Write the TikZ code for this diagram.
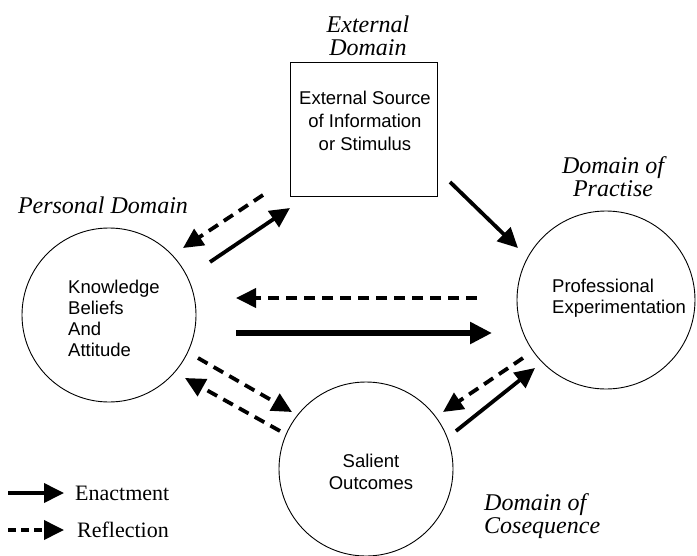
\documentclass[tikz,border=0pt]{standalone}
\usepackage{fontspec}
\setmainfont{Liberation Serif}
\newfontfamily\sansf{Liberation Sans}
\usetikzlibrary{arrows.meta}
\begin{document}
\begin{tikzpicture}[x=1pt,y=-1pt,
  circ/.style={draw,circle,line width=0.9pt,inner sep=0pt},
  boxnode/.style={draw,rectangle,line width=0.9pt,inner sep=0pt},
  domlabel/.style={font=\fontsize{24}{23}\selectfont\itshape,align=center,inner sep=0pt},
  intext/.style={font=\sansf\fontsize{18.5}{21}\selectfont,inner sep=0pt},
  legtext/.style={font=\fontsize{22}{24}\selectfont,inner sep=0pt,anchor=west},
  enact/.style={line width=3.8pt,-{Triangle[length=20pt,width=19pt]}},
  enactthick/.style={line width=5.5pt,-{Triangle[length=22pt,width=21pt]}},
  reflect/.style={line width=3.8pt,dash pattern=on 11pt off 7pt,-{Triangle[length=20pt,width=19pt]}}
]
\useasboundingbox (0,0) rectangle (697,555);

% main shapes
\node[boxnode,minimum width=147pt,minimum height=134pt] (B) at (363.5,129) {};
\node[circ,minimum size=174pt] (L) at (109,315) {};
\node[circ,minimum size=178pt] (R) at (606,300) {};
\node[circ,minimum size=174pt] (S) at (366,469) {};

% texts inside
\node[intext,align=center] (Btext) at (365,121) {External Source\\[2pt]of Information\\[2pt]or Stimulus};
\node[intext,align=left,anchor=west] (Ltext) at (68,318) {Knowledge\\Beliefs\\And\\Attitude};
\node[intext,align=left,anchor=west] (Rtext) at (552,298) {Professional\\Experimentation};
\node[intext,align=center] (Stext) at (371,472) {Salient\\[1pt]Outcomes};

% domain labels
\node[domlabel] (dext) at (368,36) {External\\Domain};
\node[domlabel] (dper) at (103,205) {Personal Domain};
\node[domlabel] (dpra) at (613,177) {Domain of\\Practise};
\node[domlabel,align=left,anchor=west] (dcos) at (484,516) {Domain of\\Cosequence};

% connector end points
\coordinate (a1s) at (263,195); \coordinate (a1e) at (183,248);
\coordinate (a2s) at (210,262); \coordinate (a2e) at (290,208);
\coordinate (a3s) at (450,182); \coordinate (a3e) at (518,248);
\coordinate (a4s) at (477,298); \coordinate (a4e) at (236,298);
\coordinate (a5s) at (236,333); \coordinate (a5e) at (492,333);
\coordinate (a6s) at (198,358); \coordinate (a6e) at (292,412);
\coordinate (a7s) at (280,431); \coordinate (a7e) at (185,378);
\coordinate (a8s) at (523,358); \coordinate (a8e) at (443,412);
\coordinate (a9s) at (456,431); \coordinate (a9e) at (535,368);

\draw[reflect] (a1s) -- (a1e);
\draw[enact] (a2s) -- (a2e);
\draw[enact] (a3s) -- (a3e);
\draw[reflect] (a4s) -- (a4e);
\draw[enactthick] (a5s) -- (a5e);
\draw[reflect] (a6s) -- (a6e);
\draw[reflect] (a7s) -- (a7e);
\draw[reflect] (a8s) -- (a8e);
\draw[enact] (a9s) -- (a9e);

% legend
\coordinate (l1s) at (8,493); \coordinate (l1e) at (64,493);
\coordinate (l2s) at (8,530); \coordinate (l2e) at (64,530);
\draw[enact] (l1s) -- (l1e);
\draw[reflect,dash pattern=on 8pt off 5pt] (l2s) -- (l2e);
\node[legtext] (lt1) at (75,493) {Enactment};
\node[legtext] (lt2) at (77,530) {Reflection};
\end{tikzpicture}
\end{document}
